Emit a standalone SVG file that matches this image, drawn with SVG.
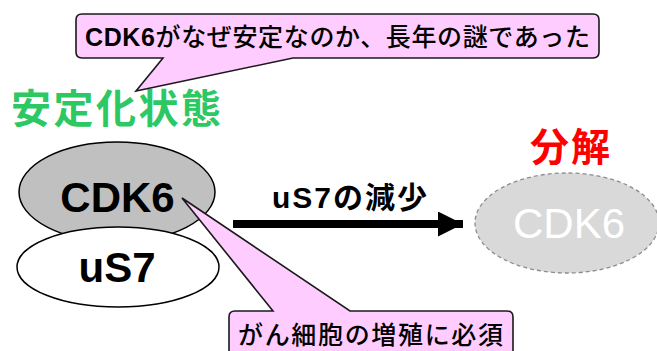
<svg xmlns="http://www.w3.org/2000/svg" width="657" height="351" viewBox="0 0 657 351">
<defs>
<style>
text{font-family:"Liberation Sans","Noto Sans CJK JP",sans-serif;}
.callout{fill:#ffccff;stroke:#1a1a1a;stroke-width:1.6;stroke-linejoin:miter;}
.cap{font-size:25px;font-weight:500;fill:#000;}
.big{font-size:42px;font-weight:bold;fill:#000;text-anchor:middle;}
</style>
<marker id="ah" markerUnits="userSpaceOnUse" markerWidth="26" markerHeight="26" refX="25" refY="12.5" orient="auto">
<path d="M0,0 L25,12.5 L0,25 Z" fill="#000"/>
</marker>
</defs>
<rect width="657" height="351" fill="#fff"/>

<g id="label-stable">
<text x="11" y="123" font-size="40" font-weight="bold" fill="#2dc864" textLength="210" lengthAdjust="spacing">安定化状態</text>
</g>
<g id="label-degrade">
<text x="530" y="161" font-size="39" font-weight="bold" fill="#ff0000" textLength="80" lengthAdjust="spacing">分解</text>
</g>

<g id="node-cdk6">
<ellipse cx="117" cy="192" rx="98" ry="50" fill="#c0c0c0" stroke="#000" stroke-width="1.5"/>
<text class="big" x="117.5" y="212">CDK6</text>
</g>
<g id="node-us7">
<ellipse cx="118" cy="267" rx="101" ry="40" fill="#fff" stroke="#000" stroke-width="1.5"/>
<text class="big" x="117" y="282">uS7</text>
</g>
<g id="node-cdk6-degraded">
<ellipse cx="567" cy="223" rx="92" ry="50" fill="#d9d9d9" stroke="#8c8c8c" stroke-width="1.3" stroke-dasharray="4 3"/>
<text x="569" y="238" font-size="42" fill="#fff" text-anchor="middle">CDK6</text>
</g>

<g id="connectors">
<line x1="233" y1="224" x2="463" y2="224" stroke="#000" stroke-width="8" marker-end="url(#ah)"/>
<text x="272" y="208" font-size="30" font-weight="bold" fill="#000" textLength="155" lengthAdjust="spacing">uS7の減少</text>
</g>

<g id="callout-top">
<path class="callout" d="M82,14 H593 Q599,14 599,20 V52 Q599,58 593,58 H293 L136,91 L163,58 H82 Q76,58 76,52 V20 Q76,14 82,14 Z"/>
<text class="cap" x="85" y="46" textLength="505" lengthAdjust="spacing"><tspan font-weight="bold">CDK6</tspan>がなぜ安定なのか、長年の謎であった</text>
</g>
<g id="callout-bottom">
<path class="callout" d="M235,311 H273 L182,198 L350,311 H507 Q513,311 513,317 V360 H229 V317 Q229,311 235,311 Z"/>
<text class="cap" x="238" y="344" font-size="26" textLength="265" lengthAdjust="spacing">がん細胞の増殖に必須</text>
</g>
</svg>
